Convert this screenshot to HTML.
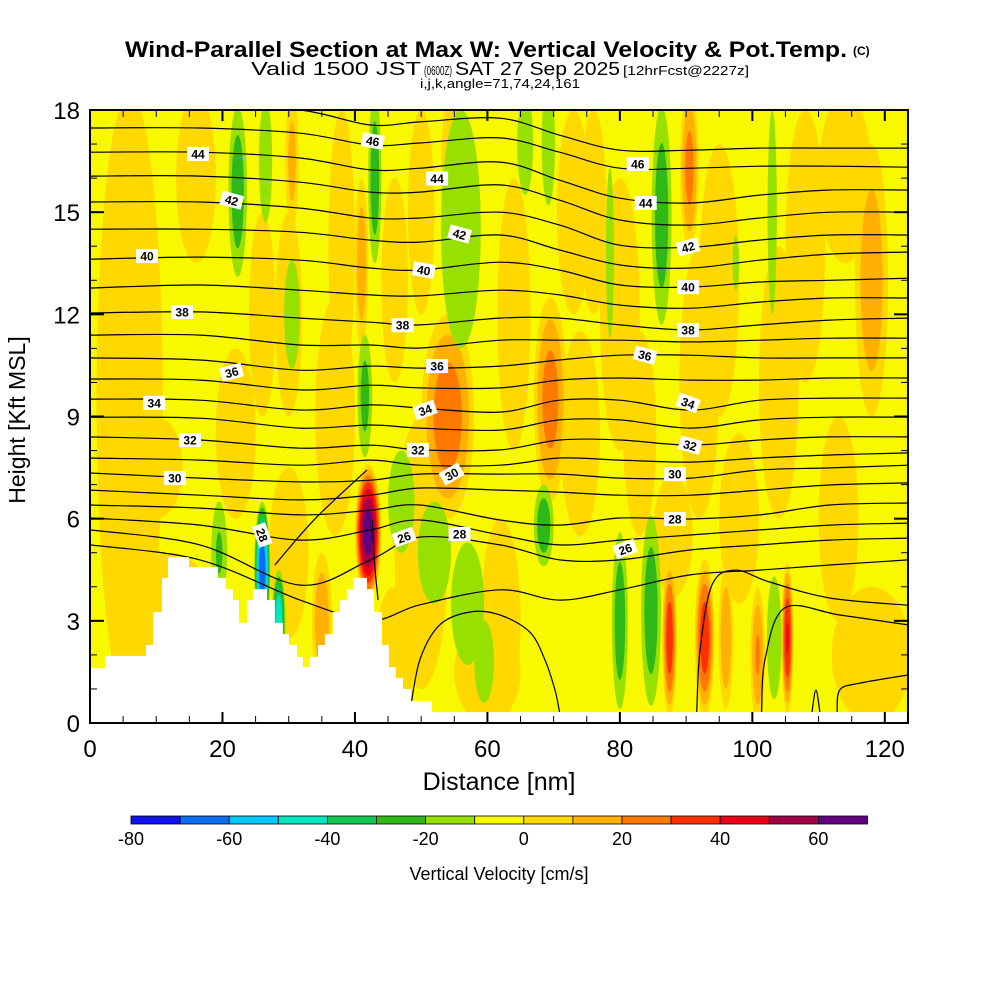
<!DOCTYPE html>
<html><head><meta charset="utf-8"><style>
html,body{margin:0;padding:0;background:#fff;width:1000px;height:1000px;overflow:hidden}
svg{display:block}
text{font-family:"Liberation Sans",Arial,sans-serif}
</style></head><body>
<svg id="chart" width="1000" height="1000" viewBox="0 0 1000 1000">
<g>
<text x="125" y="57" textLength="722" lengthAdjust="spacingAndGlyphs" font-size="22" font-weight="bold" style="font-family:'Liberation Sans Narrow','Liberation Sans',sans-serif">Wind-Parallel Section at Max W: Vertical Velocity &amp; Pot.Temp.</text>
<text x="853" y="55" font-size="12" font-weight="bold" style="font-family:'Liberation Sans Narrow','Liberation Sans',sans-serif">(C)</text>
</g>
<g>
<text x="251" y="75" font-size="18" textLength="170" lengthAdjust="spacingAndGlyphs">Valid 1500 JST</text>
<text x="424" y="75" font-size="13" textLength="28" lengthAdjust="spacingAndGlyphs">(0600Z)</text>
<text x="455" y="75" font-size="18" textLength="165" lengthAdjust="spacingAndGlyphs">SAT 27 Sep 2025</text>
<text x="623" y="75" font-size="13" textLength="126" lengthAdjust="spacingAndGlyphs">[12hrFcst@2227z]</text>
<text x="420" y="88" font-size="13" textLength="160" lengthAdjust="spacingAndGlyphs">i,j,k,angle=71,74,24,161</text>
</g>
<defs><clipPath id="plotclip"><rect x="90" y="110" width="818" height="613"/></clipPath></defs>
<g id="field" clip-path="url(#plotclip)"></g>
<g id="isentropes" clip-path="url(#plotclip)"></g>
<g id="terrain" clip-path="url(#plotclip)"></g>
<g id="labels" clip-path="url(#plotclip)"></g>
<g id="axes"></g>
<g id="colorbar"></g>
<text x="25" y="420" font-size="23" text-anchor="middle" transform="rotate(-90 25 420)">Height [Kft MSL]</text>
<text x="499" y="790" font-size="25" text-anchor="middle">Distance [nm]</text>
<text x="499" y="880" font-size="18" text-anchor="middle">Vertical Velocity [cm/s]</text>
</svg>
<script>
// ---- data ----
const xTicks = [0,20,40,60,80,100,120];
const yTicks = [0,3,6,9,12,15,18];
const cbLevels = [-80,-70,-60,-50,-40,-30,-20,-10,0,10,20,30,40,50,60,70];
const cbLabels = [-80,-60,-40,-20,0,20,40,60];
const cbColors = ['#1010f0','#0a6cf0','#00c8ff','#00e8c0','#10c850','#30b818','#98e000','#f8f800','#ffd800','#ffb000','#ff7800','#ff3000','#f00018','#a00048','#600080'];
// velocity features: centre x (nm), centre height (kft), half-width (nm), half-height (kft), peak w (cm/s)
const featX    = [22,37,50,64,73,92,104,60,114,46,88,10,26,83, 6,16,30,38,12,30,50,62,76,74,80,95,98,118,113,108,55,46, 54,69.5,90.5,118,41,30.5,42,35,87.5,92.8,96,100.8,105.3, 22.3,26.5,43,56,30.5,41.5,47,52,57,59.5,68.5,65.7,69.2,78.5,86.3,103,97.5,80,84.7,103.3,19.5,26,28.5];
const featY    = [8.5,9,15,12,15,10,10,1.5,16,2,5.5,7.5,12,8.5, 9.5,16,12,14,2.5,5,5,3,15,8.5,12,13,6,2,6,14,16,13, 9,9.5,16.3,13,13.5,16.5,5.6,3,2.5,2.5,2.5,2,2.5, 15.6,16.5,16,14.5,12,9.6,6.5,5,3.5,1.8,5.8,17,17,13.8,14.9,15,13.5,3,3.3,2.5,5,4.5,3];
const featW    = [3,3,2,2.5,2.5,3,3,5,4,3,3,4,2,2.5, 5,3,2,2,8,3,4,3,2,3,3,3,3,6,3,3,2,2, 4,2.5,1.4,2.5,1,1,2,1.5,1.1,1.5,1.1,1.1,0.9, 1.4,1,1,3,1.2,1.1,2,2.5,2.5,1.5,1.5,1.2,1,0.6,1.5,0.7,0.5,1.2,1.5,1.1,1.2,1.2,1];
const featH    = [2.5,3.5,3,4,3,4,4,1.5,2.5,2,1.8,1.5,3,3, 9,2.5,3,4,2.5,2.5,4,3,3,3,4,4,2.5,2,3,4,3,3, 3,3,2.4,4,2.5,2,2,2,2.3,2.3,2.1,2,2.2, 2.5,1.8,2.5,3.5,1.6,1.8,1.5,1.5,1.8,1.2,1.2,1.5,1.8,2.5,3.2,3,0.8,2.6,2.8,1.8,1.5,2,1.5];
const featPeak = [8,8,8,8,8,8,8,8,8,8,8,8,8,8, 8,6,8,8,8,8,8,8,8,9,8,8,8,8,8,8,8,7, 28,26,25,18,18,15,68,20,38,38,20,22,42, -28,-16,-28,-18,-16,-25,-15,-15,-15,-14,-28,-16,-16,-15,-28,-15,-13,-28,-28,-18,-22,-70,-50];
// isentropes
const nodeX = [0,16.6,31.7,42.3,49.8,61.9,70.9,80,90.6,101.1,111.7,123.5];
const thetas = [46,45,44,43,42,41,40,39,38,37,36,35,34,33,32,31,30,29,28,27,26,25];
const th46=[18.15,18.12,18.0,17.56,17.65,17.76,17.26,16.82,16.82,16.88,16.88,16.88];
const th45=[17.47,17.47,17.32,16.97,17.03,17.18,16.76,16.29,16.29,16.35,16.35,16.32];
const th44=[16.76,16.76,16.59,16.24,16.29,16.47,15.94,15.41,15.27,15.50,15.65,15.65];
const th43=[16.06,16.06,15.88,15.59,15.59,15.80,15.35,14.77,14.62,14.83,15.0,15.0];
const th42=[15.30,15.30,15.12,14.83,14.83,15.0,14.62,14.03,13.97,14.18,14.33,14.33];
const th41=[14.50,14.50,14.41,14.18,14.12,14.33,13.89,13.45,13.36,13.59,13.77,13.83];
const th40=[13.62,13.68,13.59,13.36,13.30,13.53,13.30,12.86,12.80,12.95,13.0,13.06];
const th39=[12.77,12.86,12.71,12.57,12.54,12.71,12.57,12.27,12.18,12.36,12.48,12.48];
const th38=[12.04,12.07,11.89,11.77,11.69,11.89,11.89,11.69,11.54,11.69,11.83,11.89];
const th37=[11.39,11.39,11.10,11.10,11.01,11.24,11.24,11.24,11.19,11.24,11.30,11.30];
const th36=[10.72,10.66,10.36,10.48,10.42,10.48,10.66,10.80,10.80,10.72,10.72,10.72];
const th35=[10.10,10.07,9.78,9.92,9.84,9.84,10.07,10.13,10.07,10.07,10.13,10.13];
const th34=[9.51,9.48,9.19,9.34,9.25,9.13,9.48,9.48,9.19,9.48,9.54,9.54];
const th33=[8.98,8.95,8.66,8.75,8.66,8.60,8.90,8.90,8.66,8.90,8.98,8.98];
const th32=[8.40,8.31,8.07,8.16,8.02,8.02,8.31,8.31,8.16,8.31,8.40,8.40];
const th31=[7.78,7.72,7.57,7.72,7.57,7.57,7.78,7.72,7.66,7.78,7.87,7.93];
const th30=[7.34,7.19,7.08,7.13,7.31,7.31,7.31,7.19,7.19,7.43,7.49,7.57];
const th29=[6.84,6.69,6.55,6.69,6.90,6.84,6.78,6.69,6.69,6.84,6.99,7.05];
const th28=[6.40,6.31,6.11,6.25,6.40,5.96,5.81,6.02,5.99,6.11,6.40,6.46];
const th27=[6.02,5.81,5.37,5.67,5.96,5.52,5.23,5.37,5.52,5.67,5.81,5.87];
const th26=[5.67,5.23,4.05,4.79,5.46,5.23,4.79,4.79,5.08,5.23,5.37,5.43];
const th25=[5.23,4.79,3.61,3.02,3.47,3.91,3.61,3.91,4.35,4.49,4.64,4.79];
const thetaHeights=[th46,th45,th44,th43,th42,th41,th40,th39,th38,th37,th36,th35,th34,th33,th32,th31,th30,th29,th28,th27,th26,th25];
const lowAX=[48.3,49.8,52.8,57.4,61.9,66.4,68.7,70.2,70.9], lowAY=[0.32,1.85,2.88,3.26,3.17,2.67,1.85,0.97,0.32];
const lowBX=[91.6,92.1,93.9,97.4,102.6,111.7,123.5], lowBY=[0.32,2.14,4.05,4.49,4.14,3.67,3.46];
const lowCX=[101.4,101.9,104.9,113.2,123.5], lowCY=[0.32,1.85,3.38,3.17,2.88];
const lowDX=[112.8,113.2,116.2,123.5], lowDY=[0.32,0.97,1.17,1.41];
const lowEX=[109.0,109.6,110.2], lowEY=[0.32,0.97,0.32];
const lowFX=[27.9,34,41.8], lowFY=[4.64,6.0,7.43];
const lowGX=[42.6,43.0,43.5], lowGY=[5.96,4.6,3.61];
const labText=[44,42,40,38,36,34,32,30,28,46,44,42,40,38,36,34,32,30,28,26,46,44,42,40,38,36,34,32,30,28,26];
const labX=[16.3,21.4,8.6,13.9,21.4,9.7,15.1,12.8,26.0,42.7,52.4,55.8,50.4,47.2,52.4,50.6,49.5,54.6,55.8,47.4,82.7,83.9,90.3,90.3,90.3,83.8,90.3,90.6,88.3,88.3,80.8];
const labY=[16.71,15.35,13.71,12.07,10.3,9.4,8.31,7.19,5.52,17.09,15.99,14.36,13.3,11.68,10.48,9.19,8.02,7.31,5.55,5.46,16.41,15.27,13.98,12.8,11.54,10.8,9.4,8.16,7.31,5.99,5.11];
const labRot=[0,15,0,0,-15,0,0,0,70,10,0,15,10,0,0,-20,0,-30,0,-20,0,0,-15,0,0,15,20,15,0,0,-20];
const terrX=[0,2.26,8.45,9.51,10.87,11.77,14.94,19.32,20.53,21.58,22.49,23.70,24.60,26.72,27.92,29.13,30.04,31.25,32.15,33.21,34.42,35.47,36.68,37.74,38.79,39.70,41.81,42.87,44.08,45.13,46.19,47.25,48.45,51.62,124];
const terrTop=[1.61,1.97,2.29,3.26,4.26,4.87,4.58,4.26,3.93,3.61,2.94,3.61,3.93,3.61,2.94,2.61,2.29,1.94,1.64,1.94,2.29,2.61,3.26,3.61,3.93,4.26,3.93,3.26,2.29,1.64,1.32,1.0,0.65,0.32];

// ---- scales ----
const X0=90, X1=908, Y0=723, Y1=110, XMAX=123.5, YMAX=18;
const sx = v => X0 + v*(X1-X0)/XMAX;
const sy = v => Y0 - v*(Y0-Y1)/YMAX;
const NS='http://www.w3.org/2000/svg';
function mk(tag, attrs, parent){const e=document.createElementNS(NS,tag);for(const k in attrs)e.setAttribute(k,attrs[k]);parent.appendChild(e);return e;}
function colorFor(v){for(let i=0;i<cbLevels.length-1;i++){if(v>=cbLevels[i]&&v<cbLevels[i+1])return cbColors[i];}return v<cbLevels[0]?cbColors[0]:cbColors[cbColors.length-1];}

const field=document.getElementById('field');
const bg=mk('rect',{x:X0,y:Y1,width:X1-X0,height:Y0-Y1,fill:'#f8f800'},field);


for(let i=0;i<featX.length;i++){
  const p=featPeak[i];
  const g=mk('g',{},field);
  
  
  const levels=[];
  if(p>0){for(let t=0;t<p;t+=10)levels.push(t);}else{for(let t=-10;t>p;t-=10)levels.push(t);}
  const outer=p>0?0:-10;
  levels.forEach(t=>{
    const s=Math.sqrt((p-t)/(p-outer));
    const col=p>0?colorFor(t+1):colorFor(t-1);
    const e=mk('ellipse',{cx:sx(featX[i]),cy:sy(featY[i]),rx:Math.max(0.5,(sx(featW[i])-X0)*s),ry:Math.max(0.5,(Y0-sy(featH[i]))*s),fill:col},g);
    
    
  });
}

const iso=document.getElementById('isentropes');
function smoothPath(xs,ys){
  const P=xs.map((x,i)=>[sx(x),sy(ys[i])]);
  let d='M'+P[0][0].toFixed(1)+','+P[0][1].toFixed(1);
  for(let i=0;i<P.length-1;i++){
    const p0=P[Math.max(0,i-1)],p1=P[i],p2=P[i+1],p3=P[Math.min(P.length-1,i+2)];
    const c1=[p1[0]+(p2[0]-p0[0])/6,p1[1]+(p2[1]-p0[1])/6];
    const c2=[p2[0]-(p3[0]-p1[0])/6,p2[1]-(p3[1]-p1[1])/6];
    d+=' C'+c1[0].toFixed(1)+','+c1[1].toFixed(1)+' '+c2[0].toFixed(1)+','+c2[1].toFixed(1)+' '+p2[0].toFixed(1)+','+p2[1].toFixed(1);
  }
  return d;
}
thetaHeights.forEach((h,i)=>{
  const pth=mk('path',{d:smoothPath(nodeX,h),fill:'none',stroke:'#000','stroke-width':1.2},iso);
  
  
});
[[lowAX,lowAY],[lowBX,lowBY],[lowCX,lowCY],[lowDX,lowDY],[lowEX,lowEY],[lowFX,lowFY],[lowGX,lowGY]].forEach(a=>{
  const pth=mk('path',{d:smoothPath(a[0],a[1]),fill:'none',stroke:'#000','stroke-width':1.2},iso);
  
  
});

const ter=document.getElementById('terrain');
let td='M'+sx(0)+','+Y0;
for(let i=0;i<terrTop.length;i++){td+=' L'+sx(terrX[i]).toFixed(1)+','+sy(terrTop[i]).toFixed(1)+' L'+sx(terrX[i+1]).toFixed(1)+','+sy(terrTop[i]).toFixed(1);}
td+=' L'+X1+','+sy(terrTop[terrTop.length-1]).toFixed(1)+' L'+X1+','+Y0+' Z';
const tp=mk('path',{d:td,fill:'#fff'},ter);



const lab=document.getElementById('labels');
labText.forEach((t,i)=>{
  const x=sx(labX[i]),y=sy(labY[i]);
  const g=mk('g',{transform:'translate('+x.toFixed(1)+','+y.toFixed(1)+') rotate('+labRot[i]+')'},lab);
  
  
  mk('rect',{x:-11,y:-7,width:22,height:14,fill:'#fff'},g);
  const tx=mk('text',{x:0,y:4.5,'font-size':12,'font-weight':'bold','text-anchor':'middle'},g);
  tx.textContent=t;
});

const ax=document.getElementById('axes');
const frame=mk('rect',{x:X0,y:Y1,width:X1-X0,height:Y0-Y1,fill:'none',stroke:'#000','stroke-width':2},ax);


for(let v=0;v<=XMAX;v+=5){
  const major=v%20===0, L=major?11:7, x=sx(v);
  mk('line',{x1:x,y1:Y0,x2:x,y2:Y0-L,stroke:'#000','stroke-width':major?2:1},ax);
  mk('line',{x1:x,y1:Y1,x2:x,y2:Y1+L,stroke:'#000','stroke-width':major?2:1},ax);
}
for(let v=0;v<=YMAX;v+=1){
  const major=v%3===0, L=major?14:7, y=sy(v);
  mk('line',{x1:X0,y1:y,x2:X0+L,y2:y,stroke:'#000','stroke-width':major?2:1},ax);
  mk('line',{x1:X1,y1:y,x2:X1-L,y2:y,stroke:'#000','stroke-width':major?2:1},ax);
}
xTicks.forEach(v=>{
  const t=mk('text',{x:sx(v),y:757,'font-size':24,'text-anchor':'middle'},ax);
  
  
  t.textContent=v;
});
yTicks.forEach(v=>{
  const t=mk('text',{x:80,y:sy(v)+9,'font-size':24,'text-anchor':'end'},ax);
  
  
  t.textContent=v;
});

const cb=document.getElementById('colorbar');
const CB0=131, CBW=49.1, CBY=816, CBH=8;
cbColors.forEach((c,i)=>{
  const r=mk('rect',{x:CB0+i*CBW,y:CBY,width:CBW,height:CBH,fill:c,stroke:'#000','stroke-width':0.8},cb);
  
  
});
cbLabels.forEach(v=>{
  const i=cbLevels.indexOf(v);
  const t=mk('text',{x:CB0+i*CBW,y:845,'font-size':18,'text-anchor':'middle'},cb);
  
  
  t.textContent=v;
});
</script>
</body></html>
